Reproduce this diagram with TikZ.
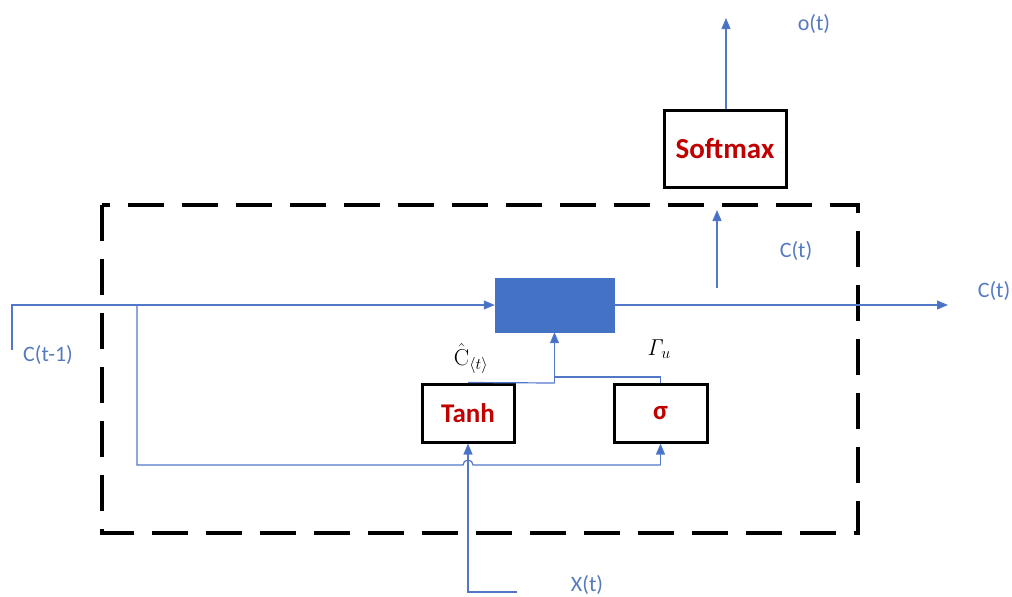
\documentclass[tikz,border=0pt]{standalone}
\usepackage{fix-cm}
\usepackage[no-math]{fontspec}
\setmainfont{Carlito}
\usetikzlibrary{arrows.meta}
\definecolor{lineblue}{RGB}{82,118,200}
\definecolor{fillblue}{RGB}{68,114,196}
\definecolor{labblue}{RGB}{86,122,190}
\definecolor{darkred}{RGB}{192,0,0}
\tikzset{
  wire/.style={draw=lineblue, line width=1.2pt},
  arr/.style={wire, -{Triangle[length=11pt,width=9pt,fill=fillblue]}},
  fbox/.style={draw=black, line width=3pt, fill=white, inner sep=0pt,
    font=\fontsize{27}{30}\selectfont\bfseries, text=darkred},
  lab/.style={text=labblue, font=\fontsize{22}{26}\selectfont, inner sep=0pt},
  mlab/.style={text=black, font=\fontsize{23}{26}\selectfont, inner sep=0pt},
  dashbox/.style={draw=black, line width=3.5pt, dash pattern=on 36pt off 18pt}
}
\begin{document}
\begin{tikzpicture}[x=1pt,y=-1pt]
\useasboundingbox (0,0) rectangle (1012,597);
% dashed cell box
\draw[dashbox] (102,205) rectangle (858,533);
% nodes
\node[draw=fillblue, fill=fillblue, minimum width=119pt, minimum height=54pt, inner sep=0pt] (mult) at (554.5,305) {};
\node[fbox, minimum width=92pt, minimum height=58pt] (tanh) at (468,413) {Tanh};
\node[fbox, minimum width=93pt, minimum height=58pt] (sig) at (660.5,413) {σ};
\node[fbox, minimum width=122pt, minimum height=77pt, font=\fontsize{29}{32}\selectfont\bfseries] (soft) at (725,148.5) {Softmax};
% labels
\node[lab] (lctm1) at (48,355) {C(t-1)};
\node[lab] (lct1) at (796,251) {C(t)};
\node[lab] (lct2) at (994,291) {C(t)};
\node[lab] (lot) at (814,24) {o(t)};
\node[lab] (lxt) at (587,585) {X(t)};
\node[mlab] (lchat) at (471,359) {$\hat{\mathrm{C}}_{\langle t\rangle}$};
\node[mlab] (lgam) at (659,349) {$\mathit{\Gamma}_{u}$};
% coordinates
\coordinate (cin) at (12,350);
\coordinate (cinc) at (12,305);
\coordinate (br) at (137,305);
\coordinate (brd) at (137,465);
\coordinate (cout) at (948,305);
\coordinate (upb) at (717,288);
\coordinate (upt) at (717,210);
\coordinate (otop) at (726,18);
\coordinate (xin) at (517,592);
\coordinate (xc) at (468,592);
\coordinate (tj) at (554.5,383);
\coordinate (sj) at (554.5,377);
% connectors
\draw[arr] (cin) -- (cinc) -- (mult.west);
\draw[wire] (br) -- (brd) -- (463,465) arc (180:360:5) -- (sig.south |- brd);
\draw[arr] (sig.south |- brd) -- (sig.south);
\draw[arr] (mult.east) -- (cout);
\draw[arr] (upb) -- (upt);
\draw[arr] (soft.north -| otop) -- (otop);
\draw[arr] (xin) -- (xc) -- (tanh.south);
\draw[wire] (tanh.north) -- (tj);
\draw[arr] (tj) -- (mult.south);
\draw[wire] (sig.north) -- (sig.north |- sj) -- (sj);
\end{tikzpicture}
\end{document}
